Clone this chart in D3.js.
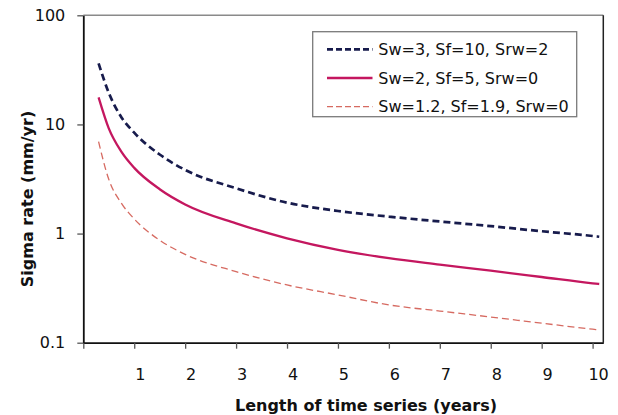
<!DOCTYPE html>
<html>
<head>
<meta charset="utf-8">
<script src="https://cdn.jsdelivr.net/npm/d3@7"></script>
<style>
  body { margin: 0; background: #fff; }
  text { font-family: 'DejaVu Sans', sans-serif; }
</style>
</head>
<body>
<svg width="618" height="415"></svg>
<script>
// time series length (years) and sigma rate (mm/yr)
const years = [0.3, 0.5, 0.75, 1, 1.5, 2, 3, 4, 5, 6, 7, 8, 9, 10, 10.13];
const sigmaA = [36.3, 19.5, 11.6, 8.4, 5.3, 3.83, 2.6, 1.92, 1.61, 1.43, 1.29, 1.17, 1.05, 0.95, 0.935];
const sigmaB = [17.7, 9.2, 5.6, 4.0, 2.55, 1.85, 1.24, 0.905, 0.71, 0.595, 0.52, 0.457, 0.4, 0.35, 0.345];
const sigmaC = [6.95, 3.14, 1.89, 1.36, 0.87, 0.645, 0.448, 0.338, 0.274, 0.222, 0.195, 0.172, 0.151, 0.133, 0.131];
const seriesNames = ['Sw=3, Sf=10, Srw=2', 'Sw=2, Sf=5, Srw=0', 'Sw=1.2, Sf=1.9, Srw=0'];
const xTicks = [0, 1, 2, 3, 4, 5, 6, 7, 8, 9, 10];
const yTicks = [0.1, 1, 10, 100];

const navy = '#171b4c';
const magenta = '#c4175f';
const salmon = '#d25a50';

const svg = d3.select('svg');
const plotLeft = 83.3, plotRight = 603.3, plotTop = 15.3, plotBottom = 342.7;

const xScale = d3.scaleLinear([0, 10.21], [plotLeft, plotRight]);
const yScale = d3.scaleLog([0.1, 100], [plotBottom, plotTop]);

// plot frame
svg.append('line')
  .attr('x1', plotLeft).attr('x2', plotRight)
  .attr('y1', plotTop).attr('y2', plotTop)
  .attr('stroke', '#8a8a8a').attr('stroke-width', 1.5);
svg.append('line')
  .attr('x1', plotRight).attr('x2', plotRight)
  .attr('y1', plotTop).attr('y2', plotBottom)
  .attr('stroke', '#222').attr('stroke-width', 1.5);

const xAxis = d3.axisBottom(xScale)
  .tickValues(xTicks)
  .tickFormat((d) => d === 0 ? '' : d)
  .tickSizeInner(6)
  .tickSizeOuter(0)
  .tickPadding(20);

const yAxis = d3.axisLeft(yScale)
  .tickValues(yTicks)
  .tickFormat((d) => d3.format('~g')(d))
  .tickSizeInner(6)
  .tickSizeOuter(0)
  .tickPadding(12);

const gx = svg.append('g')
  .attr('transform', `translate(0, ${plotBottom})`)
  .call(xAxis);
gx.select('.domain').attr('stroke', '#111').attr('stroke-width', 1.8);
gx.selectAll('.tick line').attr('stroke', '#555').attr('stroke-width', 1.3);
gx.selectAll('text')
  .attr('dx', 5.5)
  .style('font-size', '16px')
  .attr('fill', '#111');

const gy = svg.append('g')
  .attr('transform', `translate(${plotLeft}, 0)`)
  .call(yAxis);
gy.select('.domain').attr('stroke', '#111').attr('stroke-width', 1.8);
gy.selectAll('.tick line').attr('stroke', '#555').attr('stroke-width', 1.3);
gy.selectAll('text')
  .style('font-size', '16px')
  .attr('fill', '#111');

// axis titles
svg.append('text')
  .text('Length of time series (years)')
  .attr('x', 366)
  .attr('y', 411)
  .attr('text-anchor', 'middle')
  .style('font-size', '16px')
  .style('font-weight', 'bold')
  .attr('fill', '#111');

svg.append('text')
  .text('Sigma rate (mm/yr)')
  .attr('transform', 'translate(33, 199) rotate(-90)')
  .attr('text-anchor', 'middle')
  .style('font-size', '16px')
  .style('font-weight', 'bold')
  .attr('fill', '#111');

// curves
const series = [
  { name: seriesNames[0], values: sigmaA, color: navy, width: 2.7, dash: '7,4', opacity: 1 },
  { name: seriesNames[1], values: sigmaB, color: magenta, width: 2.3, dash: null, opacity: 1 },
  { name: seriesNames[2], values: sigmaC, color: salmon, width: 1.3, dash: '7,4', opacity: 0.9 },
];

const line = d3.line()
  .x((d) => xScale(d[0]))
  .y((d) => yScale(d[1]))
  .curve(d3.curveMonotoneX);

series.forEach((s) => {
  svg.append('path')
    .attr('d', line(years.map((t, i) => [t, s.values[i]])))
    .attr('fill', 'none')
    .attr('stroke', s.color)
    .attr('stroke-width', s.width)
    .attr('stroke-dasharray', s.dash)
    .attr('stroke-opacity', s.opacity);
});

// legend
const legend = svg.append('g');
legend.append('rect')
  .attr('x', 312.7).attr('y', 31.7)
  .attr('width', 264).attr('height', 85)
  .attr('fill', '#fff')
  .attr('stroke', '#7a7a7a')
  .attr('stroke-width', 1.3);

series.forEach((s, i) => {
  const y = 49.3 + i * 28.7;
  legend.append('line')
    .attr('x1', 327).attr('x2', 372.5)
    .attr('y1', y).attr('y2', y)
    .attr('stroke', s.color)
    .attr('stroke-width', s.width)
    .attr('stroke-dasharray', s.dash ? '6,3' : null)
    .attr('stroke-opacity', s.opacity);
  legend.append('text')
    .text(s.name)
    .attr('x', 378.3)
    .attr('y', y)
    .attr('dominant-baseline', 'central')
    .style('font-size', '16px')
    .attr('fill', '#111');
});
</script>
</body>
</html>
